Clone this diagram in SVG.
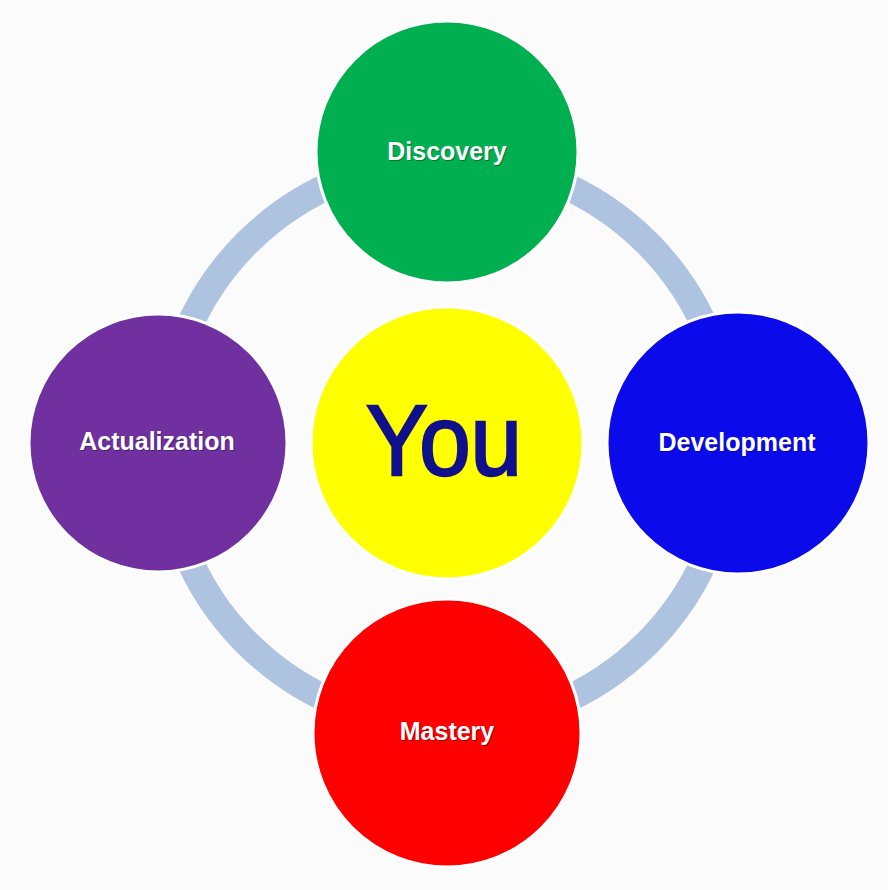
<svg xmlns="http://www.w3.org/2000/svg" width="888" height="890" viewBox="0 0 888 890">
<style>
.node{stroke:#ffffff;stroke-width:3}
.lbl{font-family:"Liberation Sans",Arial,sans-serif;font-weight:bold;font-size:25px;fill:#ffffff;text-anchor:middle}
.sh{font-family:"Liberation Sans",Arial,sans-serif;font-weight:bold;font-size:25px;fill:#000000;opacity:0.35;text-anchor:middle}
</style>
<rect width="888" height="890" fill="#fbfbfc"/>
<g id="connectors">
<circle cx="447" cy="443" r="283" fill="none" stroke="#adc3e0" stroke-width="27"/>
</g>
<g id="discovery">
<circle class="node" cx="447" cy="152" r="131" fill="#00b050"/>
<text class="sh" x="448" y="161">Discovery</text>
<text class="lbl" x="447" y="160">Discovery</text>
</g>
<g id="development">
<circle class="node" cx="738" cy="443" r="131" fill="#0a0aeb"/>
<text class="sh" x="738" y="452">Development</text>
<text class="lbl" x="737" y="451">Development</text>
</g>
<g id="mastery">
<circle class="node" cx="447" cy="733" r="134" fill="#ff0000"/>
<text class="sh" x="448" y="741">Mastery</text>
<text class="lbl" x="447" y="740">Mastery</text>
</g>
<g id="actualization">
<circle class="node" cx="158" cy="443" r="129" fill="#7030a0"/>
<text class="sh" x="158" y="451">Actualization</text>
<text class="lbl" x="157" y="450">Actualization</text>
</g>
<g id="you">
<circle class="node" cx="447" cy="443" r="136" fill="#ffff00"/>
<text x="444" y="475" font-family="Liberation Sans,Arial,sans-serif" font-size="100" fill="#10108c" stroke="#10108c" stroke-width="2.5" text-anchor="middle" textLength="156" lengthAdjust="spacingAndGlyphs">You</text>
</g>
</svg>
